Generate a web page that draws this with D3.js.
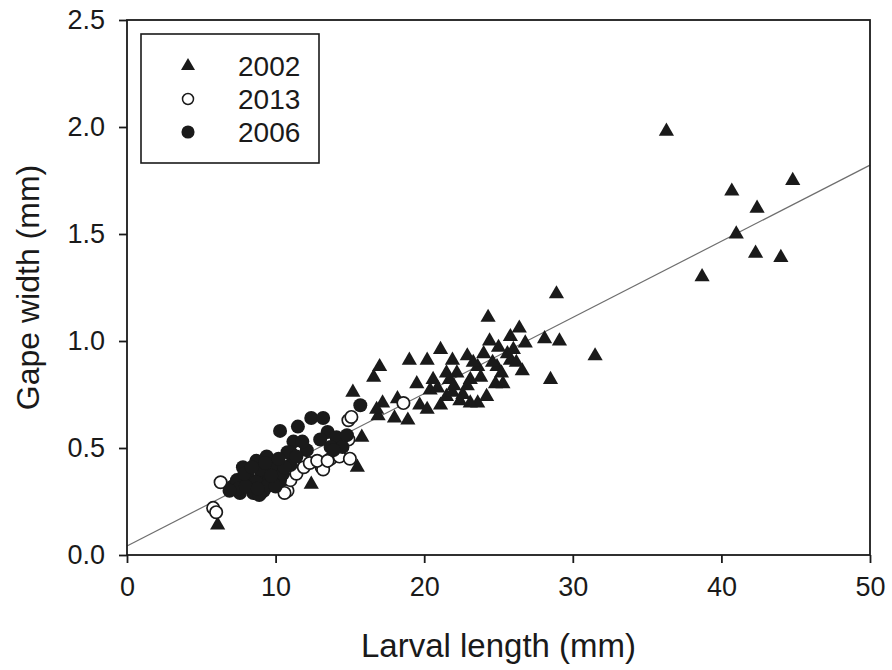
<!DOCTYPE html>
<html>
<head>
<meta charset="utf-8">
<script src="https://cdn.jsdelivr.net/npm/d3@7"></script>
<style>
  body { margin: 0; background: #fff; }
  svg { display: block; }
  text { font-family: "Liberation Sans", Arial, sans-serif; fill: #1a1a1a; }
</style>
</head>
<body>
<svg id="chart" width="892" height="670"></svg>
<script>
// 2002 larvae (triangles)
var len2002 = [6.1, 12.4, 15.5, 15.8, 15.2, 16.6, 17.0, 17.2, 18.2, 16.9, 18.0, 18.9, 16.8,
  19.0, 20.2, 21.1, 19.7, 20.2, 21.1, 20.4, 21.5, 21.7, 22.6, 23.6, 23.1, 21.9, 22.9,
  24.0, 24.3, 24.4, 26.4, 26.8, 25.8, 26.6, 25.3, 23.8, 22.9, 23.1, 21.9, 21.5, 20.6,
  24.9, 25.6, 22.4, 24.2, 25.8, 23.6, 22.2, 25.0, 26.0, 24.6, 25.2, 26.2, 24.8, 19.5,
  20.9, 22.0, 23.3, 28.9, 28.1, 29.1, 31.5, 28.5, 36.3, 40.7, 44.8, 42.4, 41.0, 42.3,
  44.0, 38.7];
var gape2002 = [0.14, 0.33, 0.41, 0.55, 0.76, 0.83, 0.88, 0.71, 0.73, 0.65, 0.64, 0.63, 0.68,
  0.91, 0.91, 0.96, 0.70, 0.68, 0.70, 0.77, 0.74, 0.82, 0.75, 0.71, 0.82, 0.91, 0.93,
  0.94, 1.11, 1.00, 1.06, 0.99, 1.02, 0.86, 0.80, 0.83, 0.79, 0.71, 0.76, 0.85, 0.82,
  0.88, 0.94, 0.72, 0.74, 0.91, 0.88, 0.85, 0.97, 0.96, 0.90, 0.85, 0.90, 0.80, 0.80,
  0.78, 0.79, 0.90, 1.22, 1.01, 1.00, 0.93, 0.82, 1.98, 1.70, 1.75, 1.62, 1.50, 1.41,
  1.39, 1.30];

// 2013 larvae (open circles)
var len2013 = [6.3, 5.8, 6.0, 10.8, 11.0, 11.4, 11.9, 12.3, 13.1, 13.2, 13.7, 14.3, 15.0,
  14.9, 14.9, 15.1, 9.0, 12.8, 11.2, 13.5, 18.6, 10.6, 9.5, 8.2];
var gape2013 = [0.34, 0.22, 0.20, 0.30, 0.35, 0.38, 0.41, 0.43, 0.41, 0.40, 0.45, 0.46, 0.45,
  0.54, 0.63, 0.645, 0.29, 0.44, 0.44, 0.44, 0.71, 0.29, 0.36, 0.33];

// 2006 larvae (filled circles)
var len2006 = [10.3, 11.5, 12.4, 13.2, 15.7, 13.5, 11.2, 13.0, 14.1, 11.0, 12.1, 13.7, 14.8,
  14.5, 13.9, 10.8, 7.8, 8.7, 9.4, 10.1, 7.1, 7.6, 8.5, 9.2, 8.3, 9.0, 9.6, 10.3, 9.8,
  10.5, 8.1, 7.4, 8.7, 9.4, 11.0, 11.4, 7.5, 8.0, 9.0, 9.3, 10.0, 8.9, 7.9, 10.6, 9.7,
  8.4, 6.9, 8.8, 10.2, 11.8];
var gape2006 = [0.58, 0.60, 0.64, 0.64, 0.70, 0.575, 0.53, 0.54, 0.55, 0.48, 0.49, 0.505, 0.56,
  0.505, 0.49, 0.48, 0.41, 0.44, 0.46, 0.43, 0.32, 0.29, 0.29, 0.30, 0.35, 0.365, 0.35, 0.35, 0.40,
  0.38, 0.365, 0.35, 0.34, 0.32, 0.42, 0.46, 0.31, 0.32, 0.40, 0.43, 0.32, 0.28, 0.38, 0.41, 0.37,
  0.41, 0.30, 0.31, 0.45, 0.53];

// pooled regression line end points
var fitLen = [0, 50];
var fitGape = [0.042, 1.822];

var xTicks = [0, 10, 20, 30, 40, 50];
var yTicks = [0, 0.5, 1.0, 1.5, 2.0, 2.5];
var legendYears = ['2002', '2013', '2006'];

(function() {
  var svg = d3.select('#chart');
  var plotLeft = 127, plotRight = 870, plotTop = 20, plotBottom = 555;
  var ink = '#1a1a1a';
  var font = '"Liberation Sans", Arial, sans-serif';

  var x = d3.scaleLinear().domain([0, 50]).range([plotLeft, plotRight]);
  var y = d3.scaleLinear().domain([0, 2.5]).range([plotBottom, plotTop]);

  function pairs(a, b) {
    return a.map(function(v, i) { return [v, b[i]]; });
  }

  // regression line sits under the markers
  svg.append('path')
    .datum(pairs(fitLen, fitGape))
    .attr('d', d3.line().x(function(d) { return x(d[0]); }).y(function(d) { return y(d[1]); }))
    .attr('fill', 'none')
    .attr('stroke', '#6e6e6e')
    .attr('stroke-width', 1.2);

  var tri = d3.symbol().type(d3.symbolTriangle).size(100);

  svg.append('g').selectAll('path')
    .data(pairs(len2002, gape2002))
    .join('path')
    .attr('d', tri)
    .attr('transform', function(d) { return 'translate(' + x(d[0]) + ',' + y(d[1]) + ')'; })
    .attr('fill', ink);

  svg.append('g').selectAll('circle')
    .data(pairs(len2013, gape2013))
    .join('circle')
    .attr('cx', function(d) { return x(d[0]); })
    .attr('cy', function(d) { return y(d[1]); })
    .attr('r', 6.2)
    .attr('fill', '#fff')
    .attr('stroke', ink)
    .attr('stroke-width', 1.7);

  svg.append('g').selectAll('circle')
    .data(pairs(len2006, gape2006))
    .join('circle')
    .attr('cx', function(d) { return x(d[0]); })
    .attr('cy', function(d) { return y(d[1]); })
    .attr('r', 7)
    .attr('fill', ink);

  // frame
  svg.append('rect')
    .attr('x', plotLeft).attr('y', plotTop)
    .attr('width', plotRight - plotLeft).attr('height', plotBottom - plotTop)
    .attr('fill', 'none')
    .attr('stroke', ink)
    .attr('stroke-width', 1.8);

  var xAxis = svg.append('g')
    .attr('transform', 'translate(0,' + plotBottom + ')')
    .call(d3.axisBottom(x).tickValues(xTicks).tickSize(8).tickPadding(14).tickFormat(d3.format('d')));

  var yAxis = svg.append('g')
    .attr('transform', 'translate(' + plotLeft + ',0)')
    .call(d3.axisLeft(y).tickValues(yTicks).tickSize(8).tickPadding(14).tickFormat(d3.format('.1f')));

  [xAxis, yAxis].forEach(function(g) {
    g.select('.domain').remove();
    g.selectAll('line').attr('stroke', ink).attr('stroke-width', 1.8);
    g.selectAll('text')
      .attr('font-family', font)
      .attr('font-size', 27)
      .attr('fill', ink);
  });

  svg.append('text')
    .attr('x', (plotLeft + plotRight) / 2)
    .attr('y', 657)
    .attr('text-anchor', 'middle')
    .attr('font-size', 33)
    .text('Larval length (mm)');

  svg.append('text')
    .attr('transform', 'translate(39,' + (plotTop + plotBottom) / 2 + ') rotate(-90)')
    .attr('text-anchor', 'middle')
    .attr('font-size', 32)
    .text('Gape width (mm)');

  // legend
  var legend = svg.append('g');
  legend.append('rect')
    .attr('x', 141).attr('y', 34)
    .attr('width', 178).attr('height', 129)
    .attr('fill', '#fff')
    .attr('stroke', ink)
    .attr('stroke-width', 1.6);

  var rows = legend.selectAll('g.row')
    .data(legendYears)
    .join('g')
    .attr('class', 'row')
    .attr('transform', function(d, i) { return 'translate(188,' + (66 + i * 33) + ')'; });

  rows.append('path')
    .attr('d', function(d) {
      if (d === '2002') return d3.symbol().type(d3.symbolTriangle).size(85)();
      return d3.symbol().type(d3.symbolCircle).size(d === '2013' ? 95 : 135)();
    })
    .attr('fill', function(d) { return d === '2013' ? '#fff' : ink; })
    .attr('stroke', function(d) { return d === '2013' ? ink : 'none'; })
    .attr('stroke-width', 1.5);

  rows.append('text')
    .attr('x', 50)
    .attr('dy', '0.35em')
    .attr('font-size', 28)
    .text(function(d) { return d; });
})();
</script>
</body>
</html>
